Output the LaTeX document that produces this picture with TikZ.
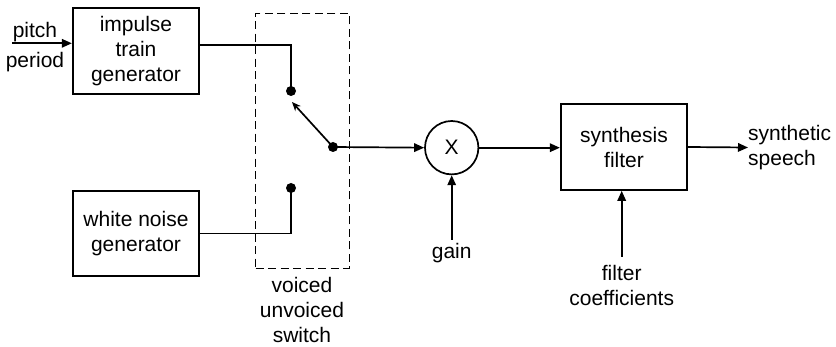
\documentclass[tikz,border=0pt]{standalone}
\usepackage{fontspec}
\setmainfont{Liberation Sans}
\usetikzlibrary{arrows.meta,calc}
\begin{document}
\begin{tikzpicture}[x=1pt,y=-1pt,
  blk/.style={draw,line width=1.7pt,align=center,inner sep=0pt},
  lbl/.style={align=center,inner sep=0pt},
  ln/.style={line width=1.7pt},
  arr/.style={ln,-{Triangle[length=10pt,width=8.5pt]}},
  sarr/.style={ln,-{Stealth[length=9pt,width=7.5pt]}},
  dotn/.style={circle,fill,inner sep=0pt,minimum size=10pt},
  font=\fontsize{21}{25}\selectfont]
\useasboundingbox (0,0) rectangle (836,347);
% blocks
\node[blk,minimum width=126.6pt,minimum height=86.3pt] (imp) at (136,51.2) {impulse\\train\\generator};
\node[blk,minimum width=126.6pt,minimum height=85.6pt] (wn) at (136,233.5) {white noise\\generator};
\node[blk,minimum width=126.6pt,minimum height=86pt] (syn) at (624,147) {synthesis\\filter};
\node[draw,circle,ln,minimum size=53.4pt,inner sep=0pt] (mul) at (451.7,147.7) {X};
% switch
\node[draw,line width=1.5pt,dash pattern=on 8pt off 4.5pt,minimum width=93.6pt,minimum height=255pt,inner sep=0pt] (sw) at (302.5,140.8) {};
\node[dotn] (up) at (291,91) {};
\node[dotn] (lo) at (291,188) {};
\node[dotn] (piv) at (333,147) {};
\coordinate (swt) at (292,102);
% labels
\node[lbl] (pt) at (35,32) {pitch};
\node[lbl] (pd) at (35,62) {period};
\node[lbl] (swl) at (302,310) {voiced\\unvoiced\\switch};
\node[lbl] (gn) at (451.7,253) {gain};
\node[lbl] (fc) at (621.7,285.5) {filter\\coefficients};
\node[lbl,align=left,anchor=west] (spk) at (748,147.5) {synthetic\\speech};
\coordinate (pin) at (12,43.3);
\coordinate (gs) at (451.7,240);
\coordinate (fs) at (621.7,256.7);
% connectors
\draw[arr] (pin) -- (pin -| imp.west);
\draw[ln] ([yshift=6pt]imp.east) -| (up.center);
\draw[ln] (wn.east) -| (lo.center);
\draw[sarr] (piv.center) -- (swt);
\draw[arr] (piv.center) -- (mul.west);
\draw[arr] (mul.east) -- (mul.east -| syn.west);
\draw[arr] (syn.east) -- (spk.west);
\draw[arr] (gs) -- (mul.south);
\draw[arr] (fs) -- (fs |- syn.south);
\end{tikzpicture}
\end{document}
